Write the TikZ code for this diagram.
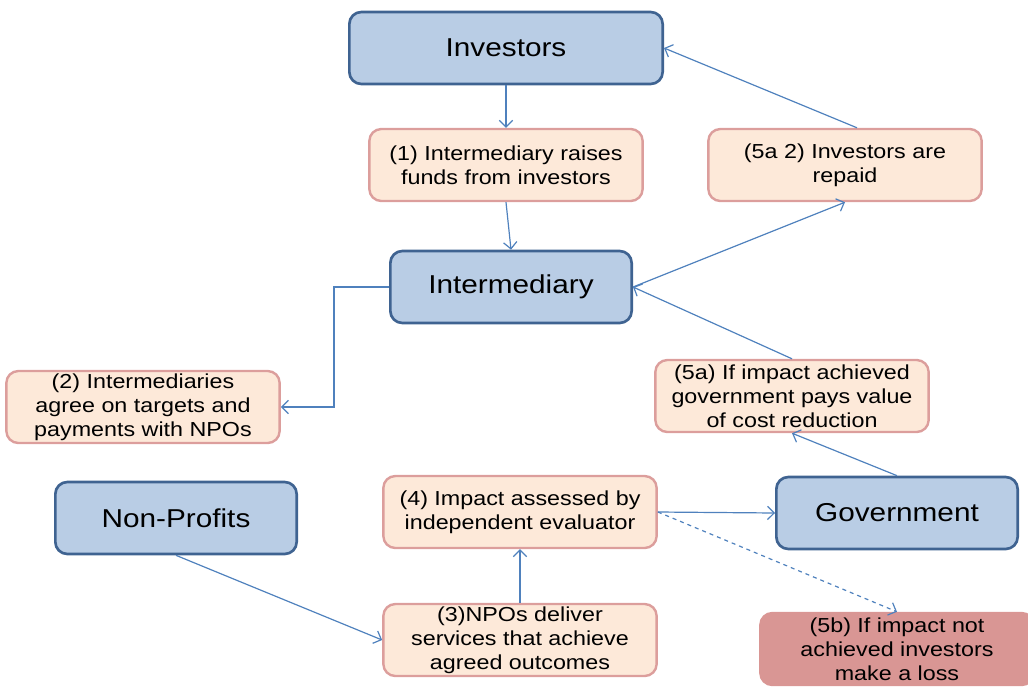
\documentclass[tikz,border=0pt]{standalone}
\usepackage{fontspec}
\setmainfont{Liberation Sans}[FakeStretch=1.15]
\usetikzlibrary{arrows.meta}

\definecolor{partyfill}{HTML}{B9CDE5}
\definecolor{partyline}{HTML}{3F6391}
\definecolor{stagefill}{HTML}{FDE9D9}
\definecolor{stageline}{HTML}{DC9E9C}
\definecolor{lossfill}{HTML}{D99694}
\definecolor{flowline}{HTML}{4F81BD}

\tikzset{
    party/.style={draw=partyline, fill=partyfill, line width=2pt, rounded corners=9pt,
        minimum height=54pt, font=\fontsize{19.4}{22}\selectfont, inner sep=0pt},
    stage/.style={draw=stageline, fill=stagefill, line width=1.8pt, rounded corners=9pt,
        minimum width=205pt, minimum height=54pt, align=center,
        font=\fontsize{15.2}{18}\selectfont, inner sep=0pt},
    loss/.style={stage, draw=lossfill, fill=lossfill},
    flow/.style={draw=flowline, line width=0.9pt, -{Straight Barb[length=5pt,width=10pt]}},
}

\begin{document}
\begin{tikzpicture}[x=0.75pt, y=-0.75pt]
    \useasboundingbox (0,0) rectangle (1028,686);

    % parties
    \node[party, minimum width=235pt] (investors) at (506,48) {Investors};
    \node[party, minimum width=181pt] (inter) at (511,287) {Intermediary};
    \node[party, minimum width=181pt] (gov) at (897,513) {Government};
    \node[party, minimum width=181pt] (npo) at (176,518) {Non-Profits};

    % stages
    \node[stage] (raise) at (506,165) {(1) Intermediary raises\\funds from investors};
    \node[stage] (repaid) at (845,165) {(5a 2) Investors are\\repaid};
    \node[stage] (agree) at (143,407) {(2) Intermediaries\\agree on targets and\\payments with NPOs};
    \node[stage] (payvalue) at (792,396) {(5a) If impact achieved\\government pays value\\of cost reduction};
    \node[stage] (assess) at (520,512) {(4) Impact assessed by\\independent evaluator};
    \node[stage] (deliver) at (520,640) {(3)NPOs deliver\\services that achieve\\agreed outcomes};
    \node[loss] (lossbox) at (897,649) {(5b) If impact not\\achieved investors\\make a loss};

    % flows
    \draw[flow] (investors.south) -- (raise.north);
    \draw[flow] (raise.south) -- (inter.north);
    \draw[flow] (inter.west) -- ++(-55,0) |- (agree.east);
    \draw[flow] (npo.south) -- (deliver.west);
    \draw[flow] (deliver.north) -- (assess.south);
    \draw[flow] (assess.east) -- (gov.west);
    \draw[flow, dashed] (assess.east) -- (lossbox.north);
    \draw[flow] (gov.north) -- (payvalue.south);
    \draw[flow] (payvalue.north) -- (inter.east);
    \draw[flow] (inter.east) -- (repaid.south);
    \draw[flow] ([xshift=9pt]repaid.north) -- (investors.east);
\end{tikzpicture}
\end{document}
